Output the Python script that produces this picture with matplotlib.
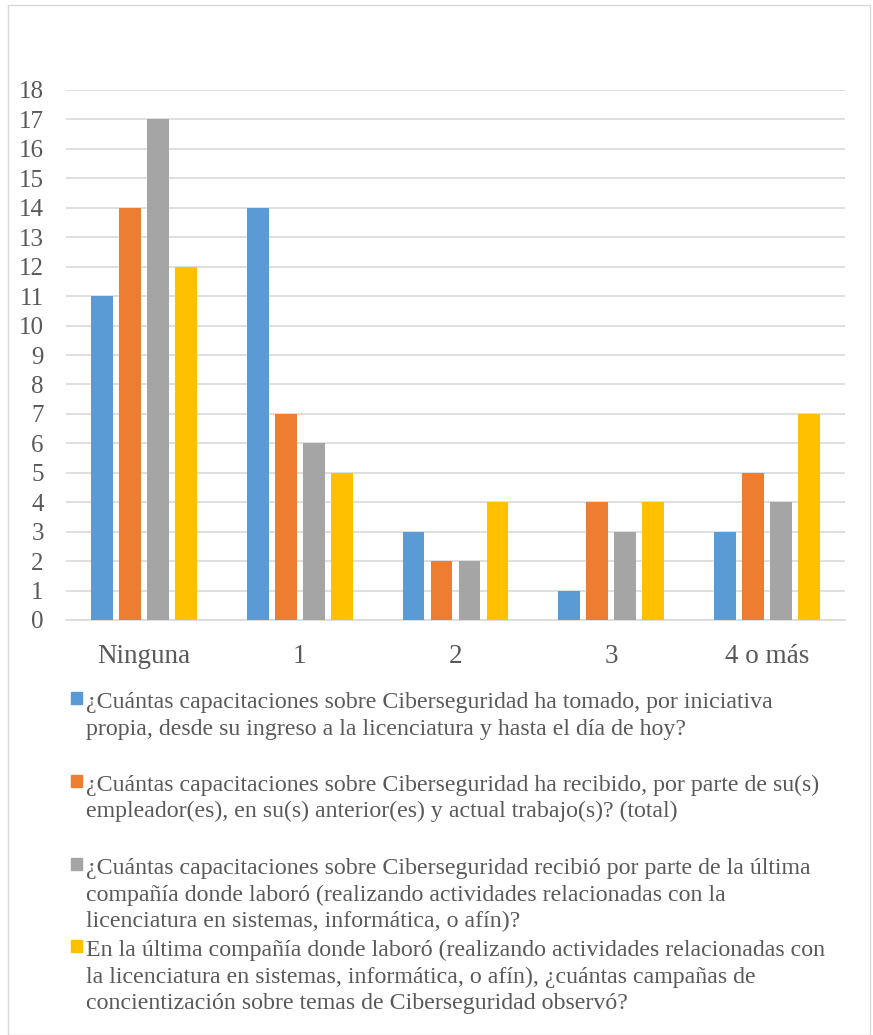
import matplotlib.pyplot as plt
import numpy as np
from matplotlib.patches import Rectangle

categorias = ['Ninguna', '1', '2', '3', '4 o más']
tomadas_iniciativa = [11, 14, 3, 1, 3]
recibidas_empleador = [14, 7, 2, 4, 5]
ultima_compania = [17, 6, 2, 3, 4]
campanas_concientizacion = [12, 5, 4, 4, 7]

etiquetas = [
    '¿Cuántas capacitaciones sobre Ciberseguridad ha tomado, por iniciativa\n'
    'propia, desde su ingreso a la licenciatura y hasta el día de hoy?',
    '¿Cuántas capacitaciones sobre Ciberseguridad ha recibido, por parte de su(s)\n'
    'empleador(es), en su(s) anterior(es) y actual trabajo(s)? (total)',
    '¿Cuántas capacitaciones sobre Ciberseguridad recibió por parte de la última\n'
    'compañía donde laboró (realizando actividades relacionadas con la\n'
    'licenciatura en sistemas, informática, o afín)?',
    'En la última compañía donde laboró (realizando actividades relacionadas con\n'
    'la licenciatura en sistemas, informática, o afín), ¿cuántas campañas de\n'
    'concientización sobre temas de Ciberseguridad observó?',
]
colores = ['#5b9bd5', '#ed7d31', '#a5a5a5', '#ffc000']
series = [tomadas_iniciativa, recibidas_empleador, ultima_compania, campanas_concientizacion]

plt.rcParams['font.family'] = ['Liberation Serif', 'DejaVu Serif']
gris_texto = '#595959'

W, H = 873, 1035
fig = plt.figure(figsize=(W / 100, H / 100), dpi=100)

# marco del gráfico
fig.patches.append(Rectangle((8 / W, 0), (870 - 8) / W, 1 - 5 / H, transform=fig.transFigure,
                             fill=False, edgecolor='#d9d9d9', linewidth=1))

ax = fig.add_axes([66 / W, 1 - 620 / H, (845 - 66) / W, (620 - 90) / H])

x = np.arange(len(categorias))
ancho = 0.14
paso = 0.18
for i, (datos, color) in enumerate(zip(series, colores)):
    ax.bar(x + (i - 1.5) * paso, datos, ancho, color=color, zorder=3)

ax.set_xlim(-0.5, len(categorias) - 0.5)
ax.set_ylim(0, 18)
ax.set_yticks(range(0, 19))
ax.set_xticks(x)
ax.set_xticklabels(categorias)
ax.grid(axis='y', color='#d9d9d9', linewidth=1.2, zorder=0)
for s in ['top', 'right', 'left']:
    ax.spines[s].set_visible(False)
ax.spines['bottom'].set_color('#d9d9d9')
ax.spines['bottom'].set_linewidth(1.2)
ax.tick_params(axis='both', length=0, colors=gris_texto)
ax.tick_params(axis='x', pad=17, labelsize=19.5)
ax.tick_params(axis='y', pad=16, labelsize=18)

# leyenda: cada línea con su propia línea base
bases_y = [708, 791, 874, 956]
interlinea = 26.5
for etiqueta, color, yb in zip(etiquetas, colores, bases_y):
    fig.patches.append(Rectangle((71 / W, 1 - (yb - 4) / H), 11 / W, 12 / H,
                                 transform=fig.transFigure, color=color))
    for k, linea in enumerate(etiqueta.split('\n')):
        fig.text(86 / W, 1 - (yb + k * interlinea) / H, linea, ha='left', va='baseline',
                 fontsize=17.2, color=gris_texto, transform=fig.transFigure)

plt.savefig('out.png', dpi=100)
